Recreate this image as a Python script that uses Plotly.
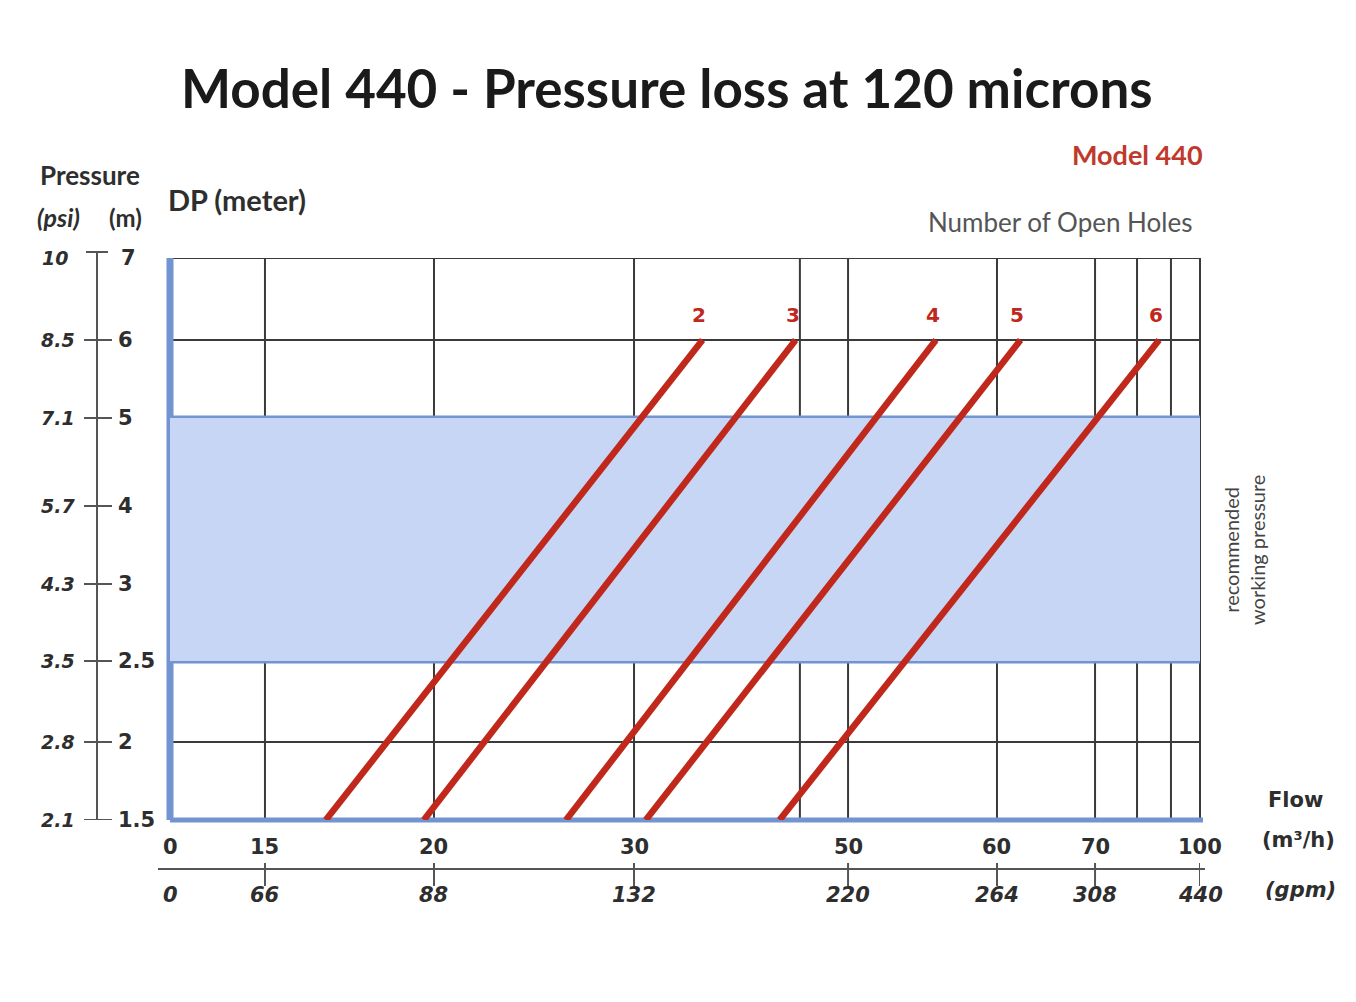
import numpy as np
import plotly.graph_objects as go

# ---------------- data ----------------
title_text = "Model 440 - Pressure loss at 120 microns"
flow_ticks = [0, 15, 20, 30, 50, 60, 70, 100]            # m3/h
gpm_labels = ["0", "66", "88", "132", "220", "264", "308", "440"]
dp_ticks = [1.5, 2, 2.5, 3, 4, 5, 6, 7]                   # m
dp_labels = ["1.5", "2", "2.5", "3", "4", "5", "6", "7"]
psi_labels = ["2.1", "2.8", "3.5", "4.3", "5.7", "7.1", "8.5", "10"]
holes = ["2", "3", "4", "5", "6"]
flow_at_dp_min = [16.8, 19.7, 26.6, 31.1, 43.6]            # flow at DP = 1.5 m
flow_at_dp_max = [36.4, 45.1, 55.9, 62.4, 88.3]            # flow at DP = 6 m
dp_min, dp_max = 1.5, 6
extra_grid_flow = [45.5, 82, 91.7]
band_low, band_high = 2.5, 5

# ---------------- the chart's own (irregular) printed scales ----------------
X_SCALE = [0, 0.0922, 0.2563, 0.4505, 0.6583, 0.8029, 0.8981, 1.0]
Y_SCALE = [0, 0.1388, 0.2829, 0.4199, 0.5587, 0.7153, 0.8541, 1.0]


def fx(f):
    return float(np.interp(f, flow_ticks, X_SCALE))


def fy(d):
    return float(np.interp(d, dp_ticks, Y_SCALE))


W, H = 1356, 1002
X0, X1 = 170 / W, 1200 / W
Y0, Y1 = 1 - 820 / H, 1 - 258 / H

RED = "#c0281c"
BLUE_FILL = "#c7d6f5"
BLUE_LINE = "#7294d0"
GRID = "#3a3a3a"
TXT = "#2e2e2e"

fig = go.Figure()

# red lines
for h, f0, f1 in zip(holes, flow_at_dp_min, flow_at_dp_max):
    fig.add_trace(go.Scatter(
        x=[fx(f0), fx(f1)], y=[fy(dp_min), fy(dp_max)],
        mode="lines", line=dict(color=RED, width=6.5),
        showlegend=False, hoverinfo="skip", name=h))

shapes = []
# recommended band
shapes.append(dict(type="rect", xref="x", yref="y", x0=0, x1=1,
                   y0=fy(band_low), y1=fy(band_high),
                   fillcolor=BLUE_FILL, line=dict(width=0), layer="below"))
# horizontal grid
for d in dp_ticks:
    if d in (band_low, band_high, dp_ticks[0]):
        continue
    shapes.append(dict(type="line", xref="paper", yref="y", x0=X0, x1=X1,
                       y0=fy(d), y1=fy(d), line=dict(color=GRID, width=2), layer="below"))
# vertical grid
for f in flow_ticks[1:] + extra_grid_flow:
    shapes.append(dict(type="line", xref="x", yref="paper", x0=fx(f), x1=fx(f),
                       y0=Y0, y1=Y1, line=dict(color=GRID, width=2), layer="below"))
# right border
shapes.append(dict(type="line", xref="paper", yref="paper", x0=X1, x1=X1, y0=Y0, y1=Y1,
                   line=dict(color=GRID, width=2), layer="below"))
# band borders
for d in (band_low, band_high):
    shapes.append(dict(type="line", xref="paper", yref="y", x0=X0, x1=X1,
                       y0=fy(d), y1=fy(d), line=dict(color=BLUE_LINE, width=5), layer="below"))
# axes (blue)
shapes.append(dict(type="line", xref="paper", yref="paper", x0=X0, x1=X1 + 3 / W, y0=Y0, y1=Y0,
                   line=dict(color=BLUE_LINE, width=5), layer="below"))
shapes.append(dict(type="line", xref="paper", yref="paper", x0=X0, x1=X0, y0=Y0, y1=Y1,
                   line=dict(color=BLUE_LINE, width=7), layer="below"))

# left pressure scale
LX = 97 / W
shapes.append(dict(type="line", xref="paper", yref="paper", x0=LX, x1=LX,
                   y0=Y0, y1=1 - 252 / H, line=dict(color="#555", width=2)))
for d in dp_ticks:
    yy = fy(d)
    if d == dp_ticks[-1]:
        shapes.append(dict(type="line", xref="paper", yref="paper", x0=86 / W, x1=108 / W,
                           y0=1 - 252 / H, y1=1 - 252 / H, line=dict(color="#555", width=2)))
    else:
        shapes.append(dict(type="line", xref="paper", yref="y", x0=84 / W, x1=112 / W,
                           y0=yy, y1=yy, line=dict(color="#555", width=2)))

# gpm scale line
GY = 1 - 869 / H
shapes.append(dict(type="line", xref="paper", yref="paper", x0=158 / W, x1=1205 / W,
                   y0=GY, y1=GY, line=dict(color="#555", width=2)))
for f in flow_ticks[1:]:
    shapes.append(dict(type="line", xref="x", yref="paper", x0=fx(f), x1=fx(f),
                       y0=1 - 863 / H, y1=1 - 886 / H, line=dict(color="#555", width=2)))

annotations = []


def ann(text, x, y, size, color=TXT, xanchor="center", yanchor="middle",
        family="Lato", weight="bold", style="normal", xref="paper", yref="paper",
        textangle=0, yshift=0):
    annotations.append(dict(text=text, x=x, y=y, xref=xref, yref=yref, showarrow=False,
                            xanchor=xanchor, yanchor=yanchor, textangle=textangle,
                            yshift=yshift,
                            font=dict(size=size, color=color, family=family,
                                      weight=weight, style=style)))


# title
ann(title_text, 667 / W, 1 - 88 / H, 53, color="#1a1a1a")
ann("Model 440", 1205 / W, 1 - 154 / H, 27, color="#c0392b", xanchor="right")
ann("Number of Open Holes", 1194 / W, 1 - 222 / H, 26, color="#555",
    xanchor="right", weight="normal")
ann("Pressure", 90 / W, 1 - 175 / H, 26)
ann("(psi)", 58 / W, 1 - 217 / H, 25, style="italic")
ann("(m)", 125 / W, 1 - 217 / H, 24)
ann("DP (meter)", 166 / W, 1 - 199 / H, 29, xanchor="left")

# left scale labels
for d, ml, pl in zip(dp_ticks, dp_labels, psi_labels):
    yy = fy(d)
    if d == dp_ticks[-1]:
        ann(ml, 119 / W, 1 - 258 / H, 21, xanchor="left", family="DejaVu Sans")
        ann(pl, 70 / W, 1 - 258 / H, 19, xanchor="right", family="DejaVu Sans", style="italic")
    else:
        ann(ml, 116 / W, yy, 21, xanchor="left", family="DejaVu Sans", yref="y")
        ann(pl, 77 / W, yy, 19, xanchor="right", family="DejaVu Sans", style="italic", yref="y")

# x labels
for f, g in zip(flow_ticks, gpm_labels):
    ann(str(f), fx(f), 1 - 847 / H, 21, family="DejaVu Sans", xref="x")
    ann(g, fx(f), 1 - 895 / H, 21, family="DejaVu Sans", style="italic", xref="x")
ann("Flow", 1295 / W, 1 - 800 / H, 21, family="DejaVu Sans")
ann("(m³/h)", 1298 / W, 1 - 840 / H, 21, family="DejaVu Sans")
ann("(gpm)", 1300 / W, 1 - 890 / H, 21, family="DejaVu Sans", style="italic")

# hole labels
for h, f1 in zip(holes, flow_at_dp_max):
    ann(h, fx(f1) - 0.003, fy(dp_max), 20, color=RED, family="DejaVu Sans",
        xref="x", yref="y", yanchor="bottom", yshift=11)

# band caption
ann("recommended<br>working pressure", 1244 / W, 1 - 550 / H, 20, color="#444",
    weight="normal", family="Lato", textangle=-90)

fig.update_layout(
    width=W, height=H, autosize=False,
    margin=dict(l=0, r=0, t=0, b=0),
    paper_bgcolor="white", plot_bgcolor="white",
    xaxis=dict(domain=[X0, X1], range=[0, 1], showgrid=False, zeroline=False,
               showticklabels=False, ticks="", fixedrange=True),
    yaxis=dict(domain=[Y0, Y1], range=[0, 1], showgrid=False, zeroline=False,
               showticklabels=False, ticks="", fixedrange=True),
    shapes=shapes, annotations=annotations, showlegend=False,
)

fig.write_html("out.html")
